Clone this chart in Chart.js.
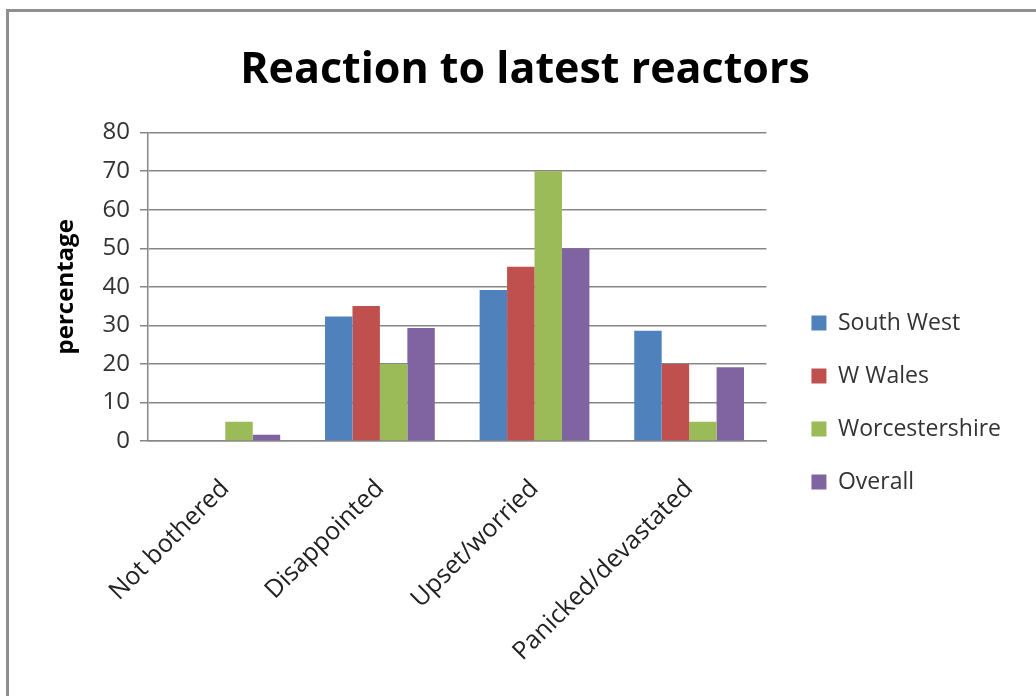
<!DOCTYPE html>
<html>
<head>
<meta charset="utf-8">
<script src="https://cdn.jsdelivr.net/npm/chart.js@4/dist/chart.umd.min.js"></script>
<style>
  html, body { margin: 0; padding: 0; background: #fff; overflow: hidden; }
  #frame { position: absolute; left: 6px; top: 9px; width: 1040px; height: 700px; border: 3px solid #8f8f8f; pointer-events: none; }
  #myChart { position: absolute; left: 0; top: 0; }
</style>
</head>
<body>
<canvas id="myChart" width="1036" height="696"></canvas>
<div id="frame"></div>
<script>
let categories = ['Not bothered', 'Disappointed', 'Upset/worried', 'Panicked/devastated'];
let southWest = [0, 32.3, 39.2, 28.6];
let wWales = [0, 35, 45.2, 20];
let worcestershire = [5, 20, 70, 5];
let overall = [1.6, 29.3, 50, 19.1];
let yTicks = [0, 10, 20, 30, 40, 50, 60, 70, 80];

Chart.defaults.font.family = "'Open Sans', sans-serif";

let gridGrey = '#878787';

var ctx = document.getElementById('myChart').getContext('2d');
var chart = new Chart(ctx, {
    type: 'bar',
    data: {
        labels: categories,
        datasets: [
            { label: 'South West', data: southWest, backgroundColor: '#4F81BD' },
            { label: 'W Wales', data: wWales, backgroundColor: '#C0504D' },
            { label: 'Worcestershire', data: worcestershire, backgroundColor: '#9BBB59' },
            { label: 'Overall', data: overall, backgroundColor: '#8064A2' }
        ]
    },
    options: {
        responsive: false,
        animation: false,
        datasets: { bar: { categoryPercentage: 0.71, barPercentage: 1 } },
        // left/right padding keeps the title centred like the original
        layout: { padding: { left: 39, top: 0, right: 25, bottom: 24 } },
        plugins: {
            title: {
                display: true,
                text: 'Reaction to latest reactors',
                color: '#000',
                font: { size: 43, weight: 'bold' },
                padding: { top: 45, bottom: 36 }
            },
            legend: {
                position: 'right',
                maxWidth: 400,
                // blank title only pushes the items down to the middle of the plot
                title: { display: true, text: ' ', font: { size: 10 }, padding: { top: 121, bottom: 0 } },
                labels: {
                    color: '#333',
                    font: { size: 23 },
                    boxWidth: 15,
                    boxHeight: 15,
                    padding: 30
                }
            },
            tooltip: { enabled: false }
        },
        scales: {
            x: {
                grid: { display: false, drawTicks: false },
                border: { display: true, color: gridGrey, width: 1.5 },
                ticks: { color: '#222', font: { size: 25 }, minRotation: 45, maxRotation: 45, padding: 33 },
                afterFit: (scale) => { scale.height = 231; }
            },
            y: {
                min: 0,
                max: 80,
                afterBuildTicks: (scale) => { scale.ticks = yTicks.map(v => ({ value: v })); },
                grid: { color: gridGrey, lineWidth: 1.5, tickLength: 8 },
                border: { color: gridGrey, width: 1.5 },
                ticks: { color: '#333', font: { size: 24 }, padding: 10 },
                title: {
                    display: true,
                    text: 'percentage',
                    color: '#000',
                    font: { size: 24, weight: 'bold' },
                    padding: { top: 13, bottom: 0 }
                },
                afterFit: (scale) => { scale.width = 109; }
            },
            // empty axis, just a gap between plot and legend
            y2: {
                position: 'right',
                display: true,
                grid: { display: false, drawTicks: false },
                border: { display: false },
                ticks: { display: false },
                afterFit: (scale) => { scale.width = 15; }
            }
        }
    }
});
</script>
</body>
</html>
